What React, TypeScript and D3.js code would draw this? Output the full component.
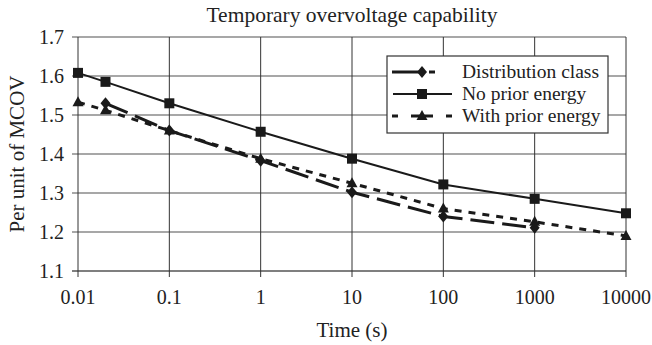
import React from "react";
import * as d3 from "d3";

const times = [0.01, 0.02, 0.1, 1, 10, 100, 1000, 10000];
const distributionTimes = [0.02, 0.1, 1, 10, 100, 1000];
const distributionValues = [1.53, 1.46, 1.383, 1.302, 1.24, 1.211];
const noPriorValues = [1.608, 1.585, 1.53, 1.457, 1.388, 1.322, 1.285, 1.248];
const withPriorTimes = [0.01, 0.02, 0.1, 1, 10, 100, 1000, 10000];
const withPriorValues = [1.533, 1.512, 1.46, 1.388, 1.325, 1.26, 1.226, 1.19];
const xTicks = [0.01, 0.1, 1, 10, 100, 1000, 10000];
const xTickLabels = ["0.01", "0.1", "1", "10", "100", "1000", "10000"];
const yTicks = [1.1, 1.2, 1.3, 1.4, 1.5, 1.6, 1.7];
const seriesNames = ["Distribution class", "No prior energy", "With prior energy"];

const W = 652, H = 345;
const left = 78, right = 626, top = 37, bottom = 271;
const font = "'Liberation Serif', 'Times New Roman', serif";

export default function App() {
  const x = d3.scaleLog().domain([0.01, 10000]).range([left, right]);
  const y = d3.scaleLinear().domain([1.1, 1.7]).range([bottom, top]);
  const line = d3.line<[number, number]>().x(d => x(d[0])).y(d => y(d[1]));

  const dist: [number, number][] = distributionTimes.map((t, i) => [t, distributionValues[i]]);
  const noPrior: [number, number][] = times.map((t, i) => [t, noPriorValues[i]]);
  const withPrior: [number, number][] = withPriorTimes.map((t, i) => [t, withPriorValues[i]]);

  const square = (cx: number, cy: number, k: string) => (
    <rect key={k} x={cx - 5} y={cy - 5} width={10} height={10} fill="#1a1a1a" />
  );
  const diamond = (cx: number, cy: number, k: string) => (
    <path key={k} d={`M${cx},${cy - 6}L${cx + 5},${cy}L${cx},${cy + 6}L${cx - 5},${cy}Z`} fill="#1a1a1a" />
  );
  const triangle = (cx: number, cy: number, k: string) => (
    <path key={k} d={`M${cx},${cy - 6}L${cx + 5.5},${cy + 4}L${cx - 5.5},${cy + 4}Z`} fill="#1a1a1a" />
  );

  const legX = 387, legY = 56, legW = 221, legH = 77;
  const rows = [72, 94, 116];

  return (
    <svg width={W} height={H} style={{ display: "block", position: "absolute", left: 0, top: 0 }}>
      <rect x={0} y={0} width={W} height={H} fill="#fff" />
      <text x={(left + right) / 2} y={22} textAnchor="middle" fontFamily={font} fontSize={21.5} fill="#222">
        Temporary overvoltage capability
      </text>
      {/* horizontal grid */}
      {yTicks.map(v => (
        <line key={"h" + v} x1={left - 6} x2={right} y1={y(v)} y2={y(v)} stroke={v === 1.1 ? "#555" : "#8a8a8a"} strokeWidth={1.5} />
      ))}
      {/* vertical grid */}
      {xTicks.map(v => (
        <line key={"v" + v} x1={x(v)} x2={x(v)} y1={top} y2={bottom + 6} stroke="#333" strokeWidth={1} />
      ))}
      {/* y tick labels */}
      {yTicks.map(v => (
        <text key={"yl" + v} x={64} y={y(v) + 7} textAnchor="end" fontFamily={font} fontSize={20} fill="#222">
          {v.toFixed(1)}
        </text>
      ))}
      {xTicks.map((v, i) => (
        <text key={"xl" + v} x={x(v)} y={304} textAnchor="middle" fontFamily={font} fontSize={20} fill="#222">
          {xTickLabels[i]}
        </text>
      ))}
      <text x={(left + right) / 2} y={337} textAnchor="middle" fontFamily={font} fontSize={21} fill="#222">Time (s)</text>
      <text transform={`translate(24,${(top + bottom) / 2}) rotate(-90)`} textAnchor="middle" fontFamily={font} fontSize={21} fill="#222">
        Per unit of MCOV
      </text>

      {/* series lines */}
      <path d={line(withPrior) || ""} fill="none" stroke="#1a1a1a" strokeWidth={3} strokeDasharray="7,7" />
      <path d={line(dist) || ""} fill="none" stroke="#1a1a1a" strokeWidth={3} strokeDasharray="24,8" />
      <path d={line(noPrior) || ""} fill="none" stroke="#1a1a1a" strokeWidth={2} />
      {withPrior.map((d, i) => triangle(x(d[0]), y(d[1]), "t" + i))}
      {dist.map((d, i) => diamond(x(d[0]), y(d[1]), "d" + i))}
      {noPrior.map((d, i) => square(x(d[0]), y(d[1]), "s" + i))}

      {/* legend */}
      <rect x={legX} y={legY} width={legW} height={legH} fill="#fff" stroke="#333" strokeWidth={1.2} />
      <line x1={392} x2={452} y1={rows[0]} y2={rows[0]} stroke="#1a1a1a" strokeWidth={3} strokeDasharray="27,10,6,20" />
      {diamond(422, rows[0], "ld")}
      <line x1={393} x2={452} y1={rows[1]} y2={rows[1]} stroke="#1a1a1a" strokeWidth={2} />
      {square(422, rows[1], "ls")}
      <line x1={392} x2={452} y1={rows[2]} y2={rows[2]} stroke="#1a1a1a" strokeWidth={3} strokeDasharray="6,13,22,13,6" />
      {triangle(422, rows[2], "lt")}
      {seriesNames.map((n, i) => (
        <text key={n} x={462} y={rows[i] + 6} fontFamily={font} fontSize={19.5} fill="#222">{n}</text>
      ))}
    </svg>
  );
}
